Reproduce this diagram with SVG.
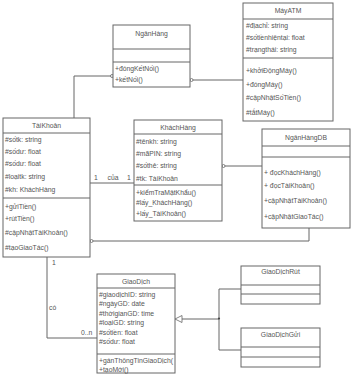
<svg xmlns="http://www.w3.org/2000/svg" width="353" height="379" viewBox="0 0 353 379">
<style>
.box{fill:#fff;stroke:#666;stroke-width:1}
.ln{fill:none;stroke:#666;stroke-width:1}
text{font-family:"Liberation Sans",Arial,sans-serif;font-size:6.8px;fill:#555}
.c{text-anchor:middle}
</style>
<rect width="353" height="379" fill="#fff"/>
<g id="connectors">
<path class="ln" d="M111,76 H74 V118"/>
<circle cx="112" cy="76" r="1.5" fill="#fff" stroke="#666" stroke-width="0.8"/>
<path class="ln" d="M192,80 H243"/>
<circle cx="191.5" cy="80" r="1.5" fill="#fff" stroke="#666" stroke-width="0.8"/>
<path class="ln" d="M90,183 H134"/>
<text x="96" y="180" class="c">1</text>
<text x="113" y="180" class="c">của</text>
<text x="129" y="180" class="c">1</text>
<path class="ln" d="M224,166 H262"/>
<circle cx="223.5" cy="166" r="1.5" fill="#fff" stroke="#666" stroke-width="0.8"/>
<path class="ln" d="M309,228 V241 H92"/>
<circle cx="91.5" cy="241" r="1.5" fill="#fff" stroke="#666" stroke-width="0.8"/>
<path class="ln" d="M47,257 V338 H97"/>
<text x="52" y="265">1</text>
<text x="49" y="310">có</text>
<text x="81" y="335">0..n</text>
<path class="ln" d="M181,319 H219 M219,289 V350 M219,289 H241 M219,350 H241"/>
<circle cx="219" cy="318.5" r="1.1" fill="#444"/>
<path d="M175,319 L182,315.5 L182,322.5 Z" fill="#fff" stroke="#666" stroke-width="0.8"/>
</g>
<g id="NganHang">
<rect class="box" x="113" y="25" width="77" height="62"/>
<path class="ln" d="M113,49 H190 M113,62 H190"/>
<text x="151.5" y="36" class="c">NgânHàng</text>
<text x="115" y="70.5">+đóngKếtNối()</text>
<text x="115" y="82">+kếtNối()</text>
</g>
<g id="MayATM">
<rect class="box" x="243" y="3" width="90" height="118"/>
<path class="ln" d="M243,19 H333 M243,58 H333"/>
<text x="288" y="13" class="c">MáyATM</text>
<text x="246" y="27.5">#địachỉ: string</text>
<text x="246" y="39.5">#sốtiềnhiệntại: float</text>
<text x="246" y="52">#trạngthái: string</text>
<text x="246" y="72.5">+khởiĐộngMáy()</text>
<text x="246" y="87">+đóngMáy()</text>
<text x="246" y="100">#cậpNhậtSốTiền()</text>
<text x="246" y="115">#tắtMáy()</text>
</g>
<g id="TaiKhoan">
<rect class="box" x="3" y="118" width="87" height="139"/>
<path class="ln" d="M3,133 H90 M3,198 H90"/>
<text x="46.5" y="128" class="c">TàiKhoản</text>
<text x="5" y="141.5">#sốtk: string</text>
<text x="5" y="153.5">#sốdư: float</text>
<text x="5" y="165.5">#sốdư: float</text>
<text x="5" y="178.5">#loạitk: string</text>
<text x="5" y="191.5">#kh: KháchHàng</text>
<text x="5" y="208.5">+gửiTiền()</text>
<text x="5" y="220.5">+rútTiền()</text>
<text x="5" y="234.5">#cậpNhậtTàiKhoản()</text>
<text x="5" y="249.5">#tạoGiaoTác()</text>
</g>
<g id="KhachHang">
<rect class="box" x="134" y="120" width="88" height="101"/>
<path class="ln" d="M134,134 H222 M134,185 H222"/>
<text x="178" y="130" class="c">KháchHàng</text>
<text x="136" y="143.5">#tênkh: string</text>
<text x="136" y="155.5">#mãPIN: string</text>
<text x="136" y="167.5">#sốthẻ: string</text>
<text x="136" y="180.5">#tk: TàiKhoản</text>
<text x="136" y="194.5">+kiểmTraMậtKhẩu()</text>
<text x="136" y="204.5">#lấy_KháchHàng()</text>
<text x="136" y="215.5">+lấy_TàiKhoản()</text>
</g>
<g id="NganHangDB">
<rect class="box" x="262" y="129" width="88" height="99"/>
<path class="ln" d="M262,146 H350 M262,157 H350"/>
<text x="306" y="140" class="c">NgânHàngDB</text>
<text x="264" y="174.5">+ đọcKháchHàng()</text>
<text x="264" y="187.5">+ đọcTàiKhoản()</text>
<text x="264" y="202.5">+cậpNhậtTàiKhoản()</text>
<text x="264" y="218.5">+cậpNhậtGiaoTác()</text>
</g>
<g id="GiaoDich">
<rect class="box" x="97" y="274" width="78" height="99"/>
<path class="ln" d="M97,288 H175 M97,354 H175"/>
<text x="136" y="284" class="c">GiaoDịch</text>
<text x="99" y="296.5">#giaodịchID: string</text>
<text x="99" y="306">#ngàyGD: date</text>
<text x="99" y="315.5">#thờigianGD: time</text>
<text x="99" y="325">#loạiGD: string</text>
<text x="99" y="334.5">#sốtiền: float</text>
<text x="99" y="344">#sốdư: float</text>
<text x="99" y="363">+gánThôngTinGiaoDịch(</text>
<text x="99" y="371.5">+tạoMới()</text>
</g>
<g id="GiaoDichRut">
<rect class="box" x="241" y="266" width="79" height="38"/>
<path class="ln" d="M241,285 H320 M241,294 H320"/>
<text x="280.5" y="274" class="c">GiaoDịchRút</text>
</g>
<g id="GiaoDichGui">
<rect class="box" x="241" y="328" width="79" height="39"/>
<path class="ln" d="M241,347 H320 M241,357 H320"/>
<text x="280.5" y="336.5" class="c">GiaoDịchGửi</text>
</g>
</svg>
